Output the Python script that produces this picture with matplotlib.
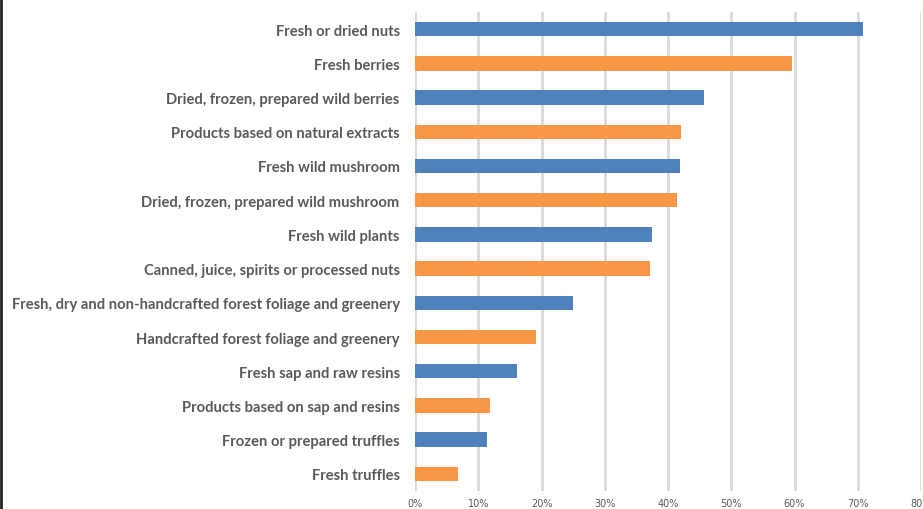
import matplotlib.pyplot as plt
from matplotlib.ticker import PercentFormatter

# Categorias (de cima para baixo) e valores
categorias = [
    "Fresh or dried nuts",
    "Fresh berries",
    "Dried, frozen, prepared wild berries",
    "Products based on natural extracts",
    "Fresh wild mushroom",
    "Dried, frozen, prepared wild mushroom",
    "Fresh wild plants",
    "Canned, juice, spirits or processed nuts",
    "Fresh, dry and non-handcrafted forest foliage and greenery",
    "Handcrafted forest foliage and greenery",
    "Fresh sap and raw resins",
    "Products based on sap and resins",
    "Frozen or prepared truffles",
    "Fresh truffles",
]
valores = [0.708, 0.596, 0.457, 0.420, 0.419, 0.414, 0.374, 0.371,
           0.250, 0.191, 0.161, 0.118, 0.114, 0.068]
ticks = [0, 0.1, 0.2, 0.3, 0.4, 0.5, 0.6, 0.7, 0.8]

cores = ['#4F81BD' if i % 2 == 0 else '#F79646' for i in range(len(valores))]

fig = plt.figure(figsize=(9.23, 5.10), dpi=100)
ax = fig.add_axes([415 / 923, 18 / 510, (921 - 415) / 923, (497 - 18) / 510])

pos = list(range(len(valores)))
ax.barh(pos, valores, height=0.42, color=cores, zorder=3)
ax.set_ylim(len(valores) - 0.5, -0.5)
ax.set_xlim(0, 0.8)

ax.set_xticks(ticks)
ax.xaxis.set_major_formatter(PercentFormatter(1.0, decimals=0))
ax.tick_params(axis='x', length=0, labelsize=7, labelcolor='#595959', pad=5)
ax.set_yticks(pos)
ax.set_yticklabels(categorias, fontsize=10.6, fontweight='bold', color='#595959',
                   family=['Lato', 'DejaVu Sans'])
ax.tick_params(axis='y', length=0, pad=11)

ax.grid(axis='x', color='#D9D9D9', linewidth=2, zorder=0)
for s in ax.spines.values():
    s.set_visible(False)

# borda escura à esquerda
fig.add_artist(plt.Line2D([0.001, 0.001], [0, 1], color='#222222', linewidth=2,
                          transform=fig.transFigure))

fig.savefig('out.png', dpi=100)
